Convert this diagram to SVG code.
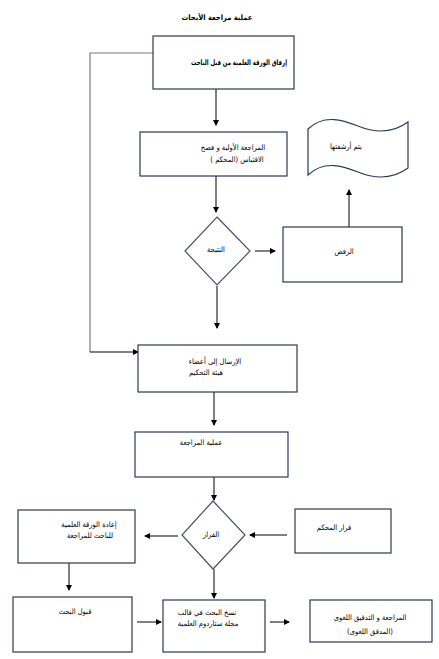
<svg xmlns="http://www.w3.org/2000/svg" width="439" height="659" viewBox="0 0 439 659">
<style>
.box{fill:#fff;stroke:#2b3a55;stroke-width:1.2}
.dia{fill:#fff;stroke:#44546a;stroke-width:1.2}
.t{font-family:"DejaVu Sans Condensed","DejaVu Sans",sans-serif;font-size:7.5px;fill:#000;text-anchor:middle}
.b{font-weight:bold}
.ln{fill:none;stroke:#000;stroke-width:1}
.gl{fill:none;stroke:#7f7f7f;stroke-width:1.2}
</style>
<defs>
<marker id="ah" markerWidth="6" markerHeight="6" refX="5" refY="3" orient="auto" markerUnits="userSpaceOnUse">
<path d="M0,0 L6,3 L0,6 z" fill="#000"/>
</marker>
</defs>
<rect width="439" height="659" fill="#fff"/>
<text class="t b" x="217" y="20" font-size="7.5">عملية مراجعة الأبحاث</text>

<g id="connectors">
<path class="gl" d="M153,53 L90,53 L90,352"/>
<path class="ln" d="M90,352 L138,352" marker-end="url(#ah)"/>
<path class="ln" d="M216,88 L216,125" marker-end="url(#ah)"/>
<path class="ln" d="M216,176 L216,212" marker-end="url(#ah)"/>
<path class="ln" d="M255,251 L275,251" marker-end="url(#ah)"/>
<path class="ln" d="M349,227 L349,190" marker-end="url(#ah)"/>
<path class="ln" d="M217,286 L217,328" marker-end="url(#ah)"/>
<path class="ln" d="M214,392 L214,425" marker-end="url(#ah)"/>
<path class="ln" d="M214,477 L214,500" marker-end="url(#ah)"/>
<path class="ln" d="M287,535 L250,535" marker-end="url(#ah)"/>
<path class="ln" d="M178,536 L145,536" marker-end="url(#ah)"/>
<path class="ln" d="M69,563 L69,590" marker-end="url(#ah)"/>
<path class="ln" d="M214,569 L214,598" marker-end="url(#ah)"/>
<path class="ln" d="M137,622 L161,622" marker-end="url(#ah)"/>
<path class="ln" d="M270,622 L289,622" marker-end="url(#ah)"/>
</g>

<g id="n1"><rect class="box" x="153" y="36" width="141" height="53"/>
<text class="t b" x="239" y="65" font-size="7" textLength="96" lengthAdjust="spacingAndGlyphs">إرفاق الورقة العلمية من قبل الباحث</text></g>

<g id="n2"><rect class="box" x="140" y="132" width="147" height="44"/>
<text class="t" x="233" y="150">المراجعة الأولية و فصح</text>
<text class="t" x="237" y="162">الاقتباس (المحكم )</text></g>

<g id="n3"><path class="dia" d="M217,217 L250,251 L217,285 L185,251 z"/>
<text class="t" x="216" y="252">النتيجة</text></g>

<g id="n4"><rect class="box" x="283" y="227" width="119" height="55"/>
<text class="t" x="344" y="254">الرفض</text></g>

<g id="n5"><path class="box" d="M308,129 C325,113 345,121 358,126 C375,133 393,133 408,122 L408,168 C393,179 375,179 358,172 C345,167 325,159 308,175 z"/>
<text class="t" x="346" y="149">يتم أرشفتها</text></g>

<g id="n6"><rect class="box" x="138" y="345" width="159" height="47"/>
<text class="t" x="215" y="364">الإرسال إلى أعضاء</text>
<text class="t" x="206" y="375">هيئة التحكيم</text></g>

<g id="n7"><rect class="box" x="135" y="432" width="153" height="45"/>
<text class="t" x="201" y="445">عملية المراجعة</text></g>

<g id="n8"><path class="dia" d="M213,501 L245,535 L213,569 L182,535 z"/>
<text class="t" x="211" y="537">القرار</text></g>

<g id="n9"><rect class="box" x="295" y="509" width="96" height="44"/>
<text class="t" x="334" y="530">قرار المحكم</text></g>

<g id="n10"><rect class="box" x="18" y="510" width="117" height="53"/>
<text class="t" x="89" y="527">إعادة الورقة العلمية</text>
<text class="t" x="90" y="538">للباحث للمراجعة</text></g>

<g id="n11"><rect class="box" x="13" y="597" width="119" height="55"/>
<text class="t" x="75" y="614">قبول البحث</text></g>

<g id="n12"><rect class="box" x="163" y="600" width="102" height="52"/>
<text class="t" x="207" y="615">نسخ البحث في قالب</text>
<text class="t" x="208" y="626">مجلة ستاردوم العلمية</text></g>

<g id="n13"><rect class="box" x="310" y="600" width="122" height="42"/>
<text class="t" x="370" y="620">المراجعة و التدقيق اللغوى</text>
<text class="t" x="370" y="634">(المدقق اللغوى)</text></g>
</svg>
